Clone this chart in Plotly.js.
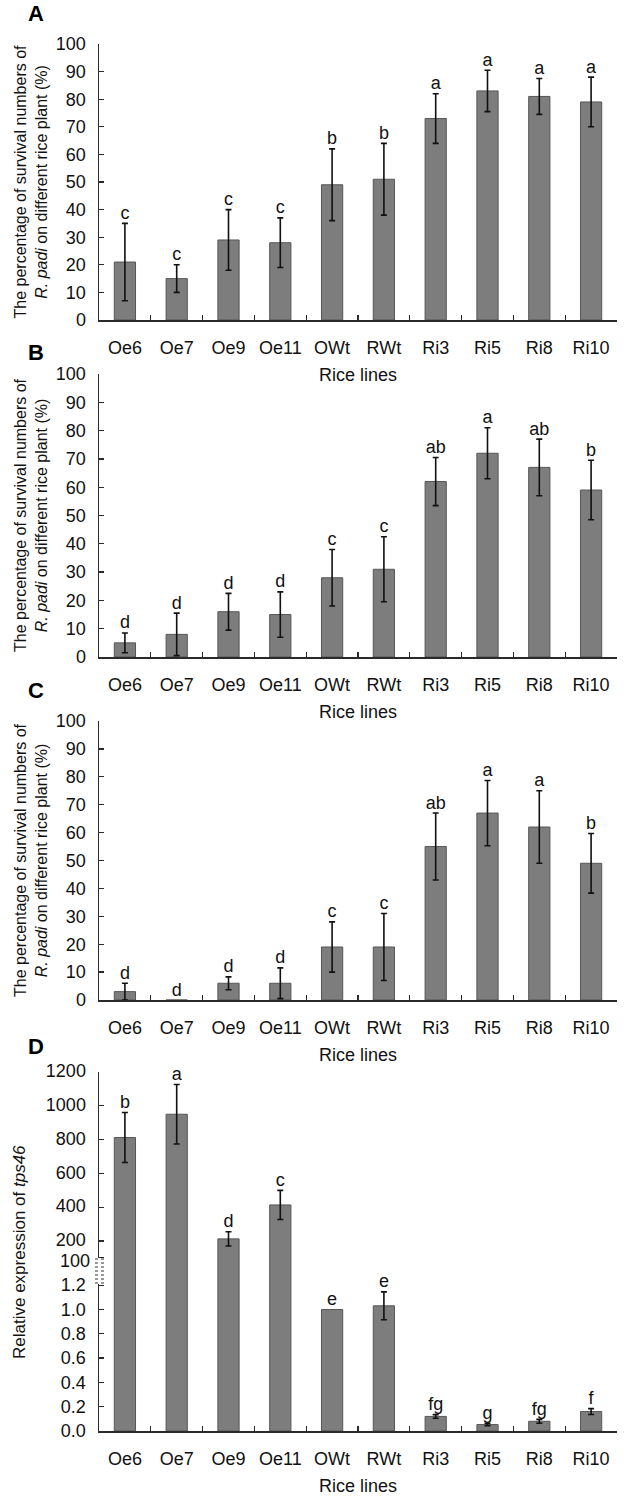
<!DOCTYPE html>
<html>
<head>
<meta charset="utf-8">
<script src="https://cdn.plot.ly/plotly-3.0.1.min.js"></script>
<style>
  html, body { margin: 0; padding: 0; background: #fff; }
  #chart { width: 633px; height: 1501px; }
</style>
</head>
<body>
<div id="chart"></div>
<script>
// rice lines on the x axis (same for all four panels)
const lines = ["Oe6", "Oe7", "Oe9", "Oe11", "OWt", "RWt", "Ri3", "Ri5", "Ri8", "Ri10"];

// A - survival (%)
const survA = [21, 15, 29, 28, 49, 51, 73, 83, 81, 79];
const errA = [14, 5, 11, 9, 13, 13, 9, 7.5, 6.5, 9];
const letA = ["c", "c", "c", "c", "b", "b", "a", "a", "a", "a"];

// B - survival (%)
const survB = [5, 8, 16, 15, 28, 31, 62, 72, 67, 59];
const errB = [3.5, 7.5, 6.5, 8, 10, 11.5, 8.5, 9, 10, 10.5];
const letB = ["d", "d", "d", "d", "c", "c", "ab", "a", "ab", "b"];

// C - survival (%)
const survC = [3, 0, 6, 6, 19, 19, 55, 67, 62, 49];
const errC = [3, null, 2.3, 5.5, 9, 12, 12, 11.7, 13, 10.7];
const letC = ["d", "d", "d", "d", "c", "c", "ab", "a", "a", "b"];

// D - relative expression of tps46 (broken axis)
const exprD = [812, 950, 212, 413, 1.0, 1.03, 0.12, 0.053, 0.08, 0.16];
const errD = [148, 176, 42, 86, null, 0.115, 0.015, 0.01, 0.016, 0.024];
const letD = ["b", "a", "d", "c", "e", "e", "fg", "g", "fg", "f"];
const brk = 1.2;
const lowTicks = [0, 0.2, 0.4, 0.6, 0.8, 1.0, 1.2];
const upTicks = [200, 400, 600, 800, 1000, 1200];
const brkTick = [100];

const W = 633, H = 1501, L = 99, R = 16;
const FONT = "Liberation Sans, Arial, sans-serif";
const AX = "#2a2a2a";
const FS = 18;

const px = (x) => (x - L) / (W - L - R);
const py = (y) => 1 - y / H;
const nan = (a) => a.map((v) => (v === null ? NaN : v));

function barTrace(vals, errs, xa, ya) {
  return {
    x: lines, y: vals, type: "bar", xaxis: xa, yaxis: ya,
    marker: { color: "#7d7d7d", line: { color: "#575757", width: 1 } },
    error_y: { type: "data", array: nan(errs), color: "#111", thickness: 1.6, width: 3 },
    hoverinfo: "skip",
  };
}

function letterTrace(vals, errs, lets, xa, ya) {
  return {
    x: lines, y: vals.map((v, i) => (v === null ? null : v + (errs[i] || 0))),
    text: lets, mode: "text", type: "scatter", textposition: "top center",
    textfont: { family: FONT, size: FS, color: "#111" },
    cliponaxis: false, xaxis: xa, yaxis: ya, hoverinfo: "skip",
  };
}

const traces = [
  barTrace(survA, errA, "x", "y"), letterTrace(survA, errA, letA, "x", "y"),
  barTrace(survB, errB, "x2", "y2"), letterTrace(survB, errB, letB, "x2", "y2"),
  barTrace(survC, errC, "x3", "y3"), letterTrace(survC, errC, letC, "x3", "y3"),
];

// D: lower segment (0 - 1.3) and upper segment (10 - 1200)
const lowErr = errD.map((e, i) => (exprD[i] <= brk ? e : null));
const upErr = errD.map((e, i) => (exprD[i] > brk ? e : null));
traces.push(barTrace(exprD, lowErr, "x4", "y4"));
traces.push(barTrace(exprD, upErr, "x4", "y5"));
traces.push(letterTrace(exprD.map((v) => (v <= brk ? v : null)), lowErr, letD.map((t, i) => (exprD[i] <= brk ? t : "")), "x4", "y4"));
traces.push(letterTrace(exprD.map((v) => (v > brk ? v : null)), upErr, letD.map((t, i) => (exprD[i] > brk ? t : "")), "x4", "y5"));
// empty trace so the overlaid "100" axis gets drawn
traces.push({ type: "scatter", x: [], y: [], xaxis: "x4", yaxis: "y6", hoverinfo: "skip" });

function xAxis(anchor) {
  return {
    anchor, domain: [0, 1], type: "category", tickson: "boundaries", tickangle: 0,
    ticks: "inside", ticklen: 5, tickwidth: 1.2, tickcolor: AX,
    showline: true, linecolor: AX, linewidth: 1.5, showgrid: false, zeroline: false,
    tickfont: { family: FONT, size: FS, color: "#111" }, ticklabelstandoff: 11,
    title: { text: "Rice lines", font: { family: FONT, size: FS, color: "#111" }, standoff: 11 },
  };
}

const surTitle = "The percentage of survival numbers of<br><i>R. padi</i> on different rice plant (%)";

function yPct(top, bottom) {
  return {
    domain: [py(bottom), py(top)], range: [0, 100], dtick: 10,
    ticks: "inside", ticklen: 5, tickwidth: 1.2, tickcolor: AX,
    showline: true, linecolor: AX, linewidth: 1.5, showgrid: false, zeroline: false,
    tickfont: { family: FONT, size: FS, color: "#111" }, ticklabelstandoff: 8,
    title: { text: surTitle, font: { family: FONT, size: 16, color: "#111" }, standoff: 4 },
  };
}

const yD = {
  ticks: "inside", ticklen: 5, tickwidth: 1.2, tickcolor: AX,
  showline: true, linecolor: AX, linewidth: 1.5, showgrid: false, zeroline: false,
  tickfont: { family: FONT, size: FS, color: "#111" }, ticklabelstandoff: 8,
};

// break marks on the D axis
const shapes = [{
  type: "rect", xref: "paper", yref: "paper",
  x0: px(95), x1: px(104), y0: py(1284), y1: py(1258),
  fillcolor: "#fff", line: { width: 0 },
}];
for (let k = 0; k < 7; k++) {
  const yy = 1259 + k * 4;
  shapes.push({
    type: "line", xref: "paper", yref: "paper",
    x0: px(95), x1: px(104), y0: py(yy), y1: py(yy),
    line: { color: "#333", width: 1, dash: "dot" },
  });
}

const notes = [["A", 14], ["B", 352], ["C", 690], ["D", 1046]].map(([t, y]) => ({
  text: "<b>" + t + "</b>", xref: "paper", yref: "paper", x: px(36), y: py(y),
  xanchor: "center", yanchor: "middle",
  showarrow: false, font: { family: FONT, size: 22, color: "#000" },
}));
notes.push({
  text: "Relative expression of <i>tps46</i>", xref: "paper", yref: "paper",
  x: px(19), y: py(1252), textangle: -90, xanchor: "center", yanchor: "middle", showarrow: false,
  font: { family: FONT, size: 17, color: "#111" },
});

const upDomain = [py(1273), py(1072)];
const upRange = [10, 1200];

const layout = {
  width: W, height: H,
  margin: { l: L, r: R, t: 0, b: 0 },
  paper_bgcolor: "#fff", plot_bgcolor: "#fff",
  showlegend: false, bargap: 0.59,
  font: { family: FONT, color: "#111" },
  xaxis: xAxis("y"), xaxis2: xAxis("y2"), xaxis3: xAxis("y3"), xaxis4: xAxis("y4"),
  yaxis: Object.assign(yPct(44, 320), { anchor: "x" }),
  yaxis2: Object.assign(yPct(374, 657), { anchor: "x2" }),
  yaxis3: Object.assign(yPct(721, 1000), { anchor: "x3" }),
  yaxis4: Object.assign({}, yD, {
    anchor: "x4", domain: [py(1431), py(1273)], range: [0, 1.3],
    tickvals: lowTicks, tickformat: ".1f",
  }),
  yaxis5: Object.assign({}, yD, {
    anchor: "x4", domain: upDomain, range: upRange,
    tickvals: upTicks, ticklabelshift: -1,
  }),
  // the "100" label sits just under "200", nudged down a little
  yaxis6: Object.assign({}, yD, {
    anchor: "x4", overlaying: "y5", range: upRange,
    tickvals: brkTick, showline: false, ticklabelshift: 3,
  }),
  shapes, annotations: notes,
};

Plotly.newPlot("chart", traces, layout, { displayModeBar: false, staticPlot: true });
</script>
</body>
</html>
